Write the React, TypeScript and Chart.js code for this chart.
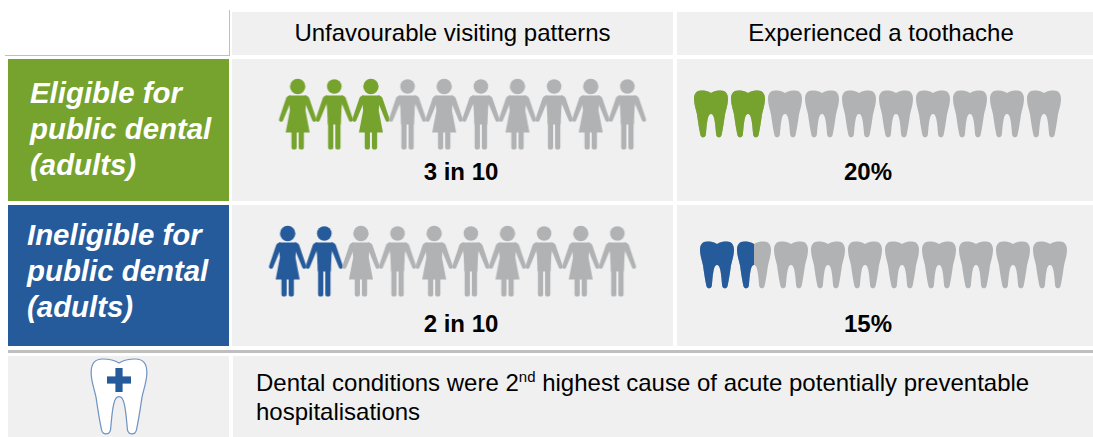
import React, { useEffect, useRef } from "react";
import { Chart, registerables } from "chart.js";

Chart.register(...registerables);

const columnTitles = ["Unfavourable visiting patterns", "Experienced a toothache"];
const rowTitles = [
  ["Eligible for", "public dental", "(adults)"],
  ["Ineligible for", "public dental", "(adults)"],
];
const visitingPerTen = [3, 2];
const toothachePercent = [20, 15];
const personOrder = ["f", "m", "f", "m", "f", "m", "f", "m", "f", "m"];
const iconPositions = [1, 2, 3, 4, 5, 6, 7, 8, 9, 10];

const GREEN = "#76a22e";
const BLUE = "#255a9b";
const GREY = "#b1b2b4";
const PANEL = "#f0f0f0";
const FONT = '"Liberation Sans", Arial, sans-serif';

const TOOTH =
  "M0,2.5 C-3,0.5 -6,0 -10,0 C-14.5,0 -17,3 -17,8.5 C-17,14 -15,19 -14,24 C-13,31 -12,38 -10.6,44.5 C-9.8,47.6 -6,47.6 -5.2,44.5 C-4.6,39 -4.4,34 -3.4,29 C-2.7,25 -1.4,23.5 0,23.5 C1.4,23.5 2.7,25 3.4,29 C4.4,34 4.6,39 5.2,44.5 C6,47.6 9.8,47.6 10.6,44.5 C12,38 13,31 14,24 C15,19 17,14 17,8.5 C17,3 14.5,0 10,0 C6,0 3,0.5 0,2.5 Z";

function newIcon(w: number, h: number) {
  const c = document.createElement("canvas");
  c.width = w;
  c.height = h;
  return c;
}

function drawPerson(ctx: CanvasRenderingContext2D, kind: string, color: string) {
  ctx.fillStyle = color;
  ctx.strokeStyle = color;
  ctx.lineCap = "round";
  ctx.lineJoin = "round";
  ctx.beginPath();
  ctx.arc(0, 8, kind === "f" ? 7.7 : 7.3, 0, Math.PI * 2);
  ctx.fill();
  for (const s of [-1, 1]) {
    ctx.beginPath();
    ctx.moveTo(s * 7, 17);
    ctx.quadraticCurveTo(s * 10.5, 17, s * 11.5, 19.5);
    ctx.lineTo(s * 18.6, 40.5);
    ctx.arc(s * 16.6, 41.2, 2.1, s > 0 ? -0.3 : Math.PI + 0.3, s > 0 ? 2.8 : 0.34, s < 0);
    ctx.lineTo(s * 7.6, 25);
    ctx.closePath();
    ctx.fill();
  }
  ctx.beginPath();
  if (kind === "f") {
    ctx.moveTo(-9, 17);
    ctx.lineTo(9, 17);
    ctx.lineTo(7.8, 32);
    ctx.lineTo(12, 54);
    ctx.lineTo(-12, 54);
    ctx.lineTo(-7.8, 32);
  } else {
    ctx.moveTo(-9, 17);
    ctx.lineTo(9, 17);
    ctx.lineTo(7.2, 30);
    ctx.lineTo(6.5, 46);
    ctx.lineTo(-6.5, 46);
    ctx.lineTo(-7.2, 30);
  }
  ctx.closePath();
  ctx.fill();
  ctx.lineWidth = 5.2;
  for (const s of [-1, 1]) {
    ctx.beginPath();
    ctx.moveTo(s * 3.6, kind === "f" ? 52 : 42);
    ctx.lineTo(s * 3.6, 68.5);
    ctx.stroke();
  }
}

function personIcon(kind: string, color: string) {
  const c = newIcon(44, 74);
  const ctx = c.getContext("2d")!;
  ctx.translate(22, 1.5);
  drawPerson(ctx, kind, color);
  return c;
}

function toothIcon(share: number, color: string) {
  const c = newIcon(38, 50);
  const ctx = c.getContext("2d")!;
  ctx.translate(19, 1.5);
  const path = new Path2D(TOOTH);
  ctx.fillStyle = GREY;
  ctx.fill(path);
  if (share > 0) {
    ctx.save();
    ctx.beginPath();
    ctx.rect(-19, -2, 38 * share, 52);
    ctx.clip();
    ctx.fillStyle = color;
    ctx.fill(path);
    ctx.restore();
  }
  return c;
}

function badgeIcon() {
  const c = newIcon(60, 80);
  const ctx = c.getContext("2d")!;
  ctx.translate(30, 2);
  ctx.save();
  ctx.scale(1.64, 1.6);
  const path = new Path2D(TOOTH);
  ctx.fillStyle = "#ffffff";
  ctx.fill(path);
  ctx.restore();
  ctx.save();
  ctx.scale(1.64, 1.6);
  ctx.strokeStyle = "#6f93c2";
  ctx.lineWidth = 0.75;
  ctx.stroke(path);
  ctx.restore();
  ctx.fillStyle = BLUE;
  ctx.fillRect(-3.6, 9, 7.2, 24);
  ctx.fillRect(-12, 17.4, 24, 7.2);
  return c;
}

type RowProps = {
  left: number;
  top: number;
  width: number;
  height: number;
  span: number;
  xs: number[];
  icons: HTMLCanvasElement[];
};

function IconRow({ left, top, width, height, span, xs, icons }: RowProps) {
  const ref = useRef<HTMLCanvasElement | null>(null);
  useEffect(() => {
    const chart = new Chart(ref.current!, {
      type: "scatter",
      data: {
        datasets: [
          {
            data: xs.map((x) => ({ x, y: 0.5 })),
            pointStyle: icons as any,
            clip: false as any,
          },
        ],
      },
      options: {
        animation: false,
        responsive: false,
        devicePixelRatio: 1,
        events: [],
        layout: { padding: 0, autoPadding: false },
        plugins: { legend: { display: false }, tooltip: { enabled: false } },
        scales: {
          x: { type: "linear", min: 0, max: span, display: false },
          y: { type: "linear", min: 0, max: 1, display: false },
        },
      },
    });
    return () => chart.destroy();
  }, []);
  return (
    <canvas
      ref={ref}
      width={width}
      height={height}
      style={{ position: "absolute", left, top, width, height }}
    />
  );
}

function Box({ x, y, w, h, color = PANEL, children, style }: any) {
  return (
    <div
      style={{
        position: "absolute",
        left: x,
        top: y,
        width: w,
        height: h,
        background: color,
        ...style,
      }}
    >
      {children}
    </div>
  );
}

function Text({ x, y, w, size, bold, italic, color = "#000", align = "center", children }: any) {
  return (
    <div
      style={{
        position: "absolute",
        left: x,
        top: y,
        width: w,
        fontFamily: FONT,
        fontSize: size,
        fontWeight: bold ? 700 : 400,
        fontStyle: italic ? "italic" : "normal",
        color,
        textAlign: align,
        whiteSpace: "nowrap",
        lineHeight: 1.15,
      }}
    >
      {children}
    </div>
  );
}

const rowTop = [59, 205];
const rowHeight = [142, 141];
const rowColor = [GREEN, BLUE];
const titleX = [30, 27];
const titleY = [76, 218];
const peopleLeft = [261, 251];
const peopleTop = [77, 224];
const teethLeft = [674, 680];
const teethTop = [89, 240];
const countY = [158, 310];

export default function App() {
  return (
    <div
      style={{
        position: "absolute",
        left: 0,
        top: 0,
        width: 1093,
        height: 437,
        overflow: "hidden",
        background: "#ffffff",
      }}
    >
      <Box x={229} y={10} w={1} h={46} color="#bfbfbf" />
      <Box x={5} y={55} w={225} h={1} color="#bfbfbf" />
      <Box x={232} y={12} w={441} h={43} />
      <Box x={677} y={12} w={416} h={43} />
      <Text x={232} y={19} w={441} size={24}>{columnTitles[0]}</Text>
      <Text x={677} y={19} w={408} size={24}>{columnTitles[1]}</Text>

      {rowTop.map((y, r) => (
        <React.Fragment key={r}>
          <Box x={8} y={y} w={221} h={rowHeight[r]} color={rowColor[r]} />
          <Box x={232} y={y} w={441} h={rowHeight[r]} />
          <Box x={677} y={y} w={416} h={rowHeight[r]} />
          {rowTitles[r].map((line, i) => (
            <Text
              key={i}
              x={titleX[r]}
              y={titleY[r] + i * 36.2}
              w={200}
              size={29.4}
              bold
              italic
              color="#ffffff"
              align="left"
            >
              {line}
            </Text>
          ))}
          <IconRow
            left={peopleLeft[r]}
            top={peopleTop[r]}
            width={403}
            height={74}
            span={11}
            xs={iconPositions}
            icons={personOrder.map((kind, i) =>
              personIcon(kind, i < visitingPerTen[r] ? rowColor[r] : GREY)
            )}
          />
          <IconRow
            left={teethLeft[r]}
            top={teethTop[r]}
            width={407}
            height={50}
            span={11}
            xs={iconPositions}
            icons={iconPositions.map((p) =>
              toothIcon(Math.max(0, Math.min(1, toothachePercent[r] / 10 - (p - 1))), rowColor[r])
            )}
          />
          <Text x={232} y={countY[r]} w={458} size={24} bold>
            {visitingPerTen[r]} in 10
          </Text>
          <Text x={677} y={countY[r]} w={382} size={24} bold>
            {toothachePercent[r]}%
          </Text>
        </React.Fragment>
      ))}

      <Box x={8} y={350} w={1085} h={3} color="#bfbfbf" />
      <Box x={8} y={356} w={221} h={81} />
      <Box x={233} y={356} w={860} h={81} />
      <IconRow left={89} top={357} width={60} height={80} span={2} xs={[1]} icons={[badgeIcon()]} />
      <Text x={256} y={369} w={820} size={24} align="left">
        Dental conditions were 2<sup style={{ fontSize: 15, lineHeight: 0 }}>nd</sup> highest cause of acute potentially preventable
      </Text>
      <Text x={256} y={398} w={820} size={24} align="left">
        hospitalisations
      </Text>
    </div>
  );
}
